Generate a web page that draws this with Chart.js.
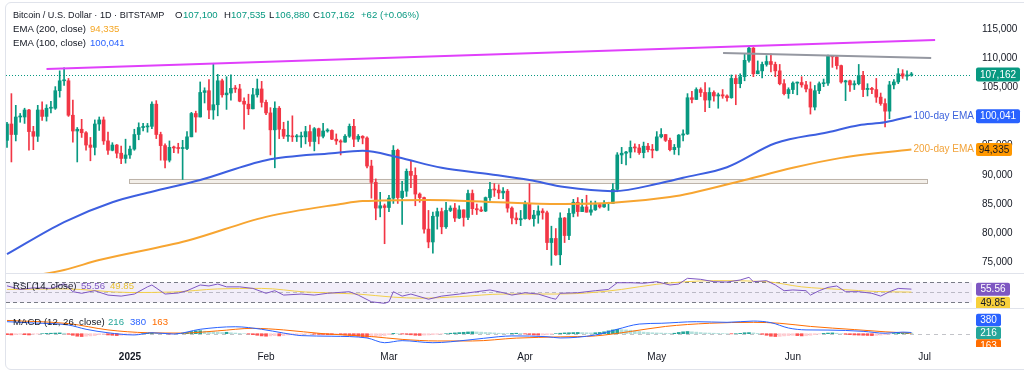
<!DOCTYPE html>
<html>
<head>
<meta charset="utf-8">
<title>Bitcoin / U.S. Dollar · 1D · BITSTAMP</title>
<script src="https://cdn.jsdelivr.net/npm/chart.js@4.4.1/dist/chart.umd.min.js"></script>
<style>
  html, body { margin: 0; padding: 0; background: #fff; }
  #wrap { position: relative; width: 1024px; height: 374px; overflow: hidden; font-family: 'Liberation Sans', Arial, sans-serif; color: #131722; }
  #frame { position: absolute; left: 5px; top: 2px; width: 1100px; height: 366px; border: 1px solid #e0e3eb; border-radius: 6px; }
  canvas { position: absolute; left: 0; }
  .sep { position: absolute; left: 6px; width: 1018px; height: 1px; background: #e0e3eb; z-index: 2; }
  .t { position: absolute; font-size: 9.6px; line-height: 12px; white-space: nowrap; z-index: 3; }
</style>
</head>
<body>
<div id="wrap">
  <div id="frame"></div>
  <canvas id="main" width="1024" height="273" style="top:0"></canvas>
  <canvas id="rsi" width="1024" height="35" style="top:273px"></canvas>
  <canvas id="macd" width="1024" height="61" style="top:308px"></canvas>
  <div class="sep" style="top:273px"></div>
  <div class="sep" style="top:308px"></div>

  <div class="t" style="left:13px;top:9px;font-size:9.1px">Bitcoin / U.S. Dollar · 1D · BITSTAMP</div>
  <div class="t" style="left:175px;top:9px">O</div><div class="t" style="left:183px;top:9px;color:#089981">107,100</div>
  <div class="t" style="left:224px;top:9px">H</div><div class="t" style="left:231px;top:9px;color:#089981">107,535</div>
  <div class="t" style="left:269px;top:9px">L</div><div class="t" style="left:275px;top:9px;color:#089981">106,880</div>
  <div class="t" style="left:313px;top:9px">C</div><div class="t" style="left:320px;top:9px;color:#089981">107,162</div>
  <div class="t" style="left:361px;top:9px;color:#089981">+62 (+0.06%)</div>
  <div class="t" style="left:13px;top:23px">EMA (200, close)</div><div class="t" style="left:90px;top:23px;color:#f5a623">94,335</div>
  <div class="t" style="left:13px;top:37px">EMA (100, close)</div><div class="t" style="left:90px;top:37px;color:#2962ff">100,041</div>

  <div class="t" style="left:13px;top:280px">RSI (14, close)</div>
  <div class="t" style="left:81px;top:280px;color:#7e57c2">55.56</div>
  <div class="t" style="left:110px;top:280px;color:#e8c233">49.85</div>

  <div class="t" style="left:13px;top:316px">MACD (12, 26, close)</div>
  <div class="t" style="left:108px;top:316px;color:#26a69a">216</div>
  <div class="t" style="left:130px;top:316px;color:#2962ff">380</div>
  <div class="t" style="left:152px;top:316px;color:#ff6d00">163</div>
</div>
<script>
// days are counted from 1 Jan 2025, prices in thousands of USD
const firstDay = -28; // 4 Dec 2024

const opens = [
  95.9,98.7,96.9,99.9,99.9,101.1,97.4,96.6,101.1,100.0,101.4,101.4,104.4,106.1,106.1,100.2,97.5,97.8,97.2,95.1,94.7,98.7,99.4,95.8,94.2,95.1,93.7,92.8,
  93.4,94.4,96.9,98.1,98.2,98.3,102.1,96.9,95.0,92.5,94.7,94.6,94.5,94.5,96.5,100.5,99.9,104.1,104.4,101.1,102.0,106.1,103.7,104.0,104.8,104.7,102.6,102.1,101.3,103.7,104.7,
  102.4,100.6,97.7,101.4,97.8,96.6,96.6,96.5,96.5,96.5,97.4,95.7,97.9,96.6,97.5,97.6,96.1,95.8,95.6,96.6,98.3,96.1,96.6,96.3,91.5,88.7,84.3,84.7,
  84.4,86.0,94.2,86.1,87.2,90.6,89.9,86.7,86.1,80.7,78.5,82.9,83.7,81.1,83.9,84.3,82.6,84.0,82.7,86.8,84.2,84.0,83.8,86.1,87.5,87.4,86.9,87.2,84.3,82.6,82.3,
  82.5,85.1,82.5,83.1,83.8,83.5,78.4,79.1,76.3,82.6,79.6,83.4,85.3,83.7,84.5,83.6,84.0,84.9,84.5,85.1,85.1,87.5,93.4,93.7,93.9,94.7,94.6,93.8,94.9,94.3,
  94.2,96.5,96.9,95.9,94.3,94.7,96.8,97.0,103.2,102.9,104.6,104.1,102.8,104.1,103.5,103.7,103.5,103.2,106.5,105.6,106.8,109.6,111.7,107.3,107.8,108.9,109.4,108.9,107.8,105.6,103.9,
  104.6,105.7,105.8,105.4,104.7,101.6,104.4,105.6,105.7,110.3,110.2,108.7,105.9,106.1,105.4,105.6,107.0,104.6,104.8,104.6,103.3,102.2,100.9,105.4,105.9,107.3,106.9,107.1
];
const highs = [
  99.0,103.9,101.9,100.5,101.4,101.2,98.3,101.9,102.5,102.0,102.6,105.1,107.8,108.3,106.5,102.8,98.1,99.5,97.4,96.4,99.4,99.9,99.9,97.3,95.5,95.2,94.9,96.1,
  94.9,97.8,98.9,98.8,98.8,102.5,102.7,97.3,95.3,95.8,94.9,95.4,95.9,97.4,100.7,100.9,105.9,104.9,106.3,109.1,107.2,106.4,106.8,107.1,105.3,105.5,103.2,103.8,104.8,106.4,106.0,
  102.8,101.5,102.5,101.7,99.0,99.2,100.1,96.9,97.3,98.3,98.5,98.1,98.0,98.8,97.9,97.7,97.0,96.0,96.9,98.7,99.5,96.9,96.7,96.5,92.5,89.3,87.0,85.0,
  86.5,95.0,94.4,88.9,91.0,92.3,91.2,86.9,86.2,83.9,83.6,84.3,84.3,85.3,84.7,85.1,84.7,84.0,87.4,87.4,85.0,84.5,86.2,88.7,88.5,88.3,87.8,87.5,84.5,83.5,83.9,
  85.5,88.5,83.9,84.7,84.2,83.8,81.2,80.8,83.5,82.7,84.2,85.8,86.1,85.8,86.5,85.5,85.5,85.1,85.6,85.3,88.5,93.8,94.7,94.0,95.8,95.3,95.2,95.6,95.4,95.2,
  97.4,97.9,96.9,96.3,95.2,96.9,97.7,103.9,104.3,104.9,104.9,105.8,104.9,104.4,104.0,104.6,103.7,107.1,107.1,107.3,110.7,111.9,111.8,109.5,109.3,110.4,110.7,109.3,108.9,106.3,104.9,
  105.9,105.9,106.8,106.0,105.9,105.3,105.9,106.4,110.5,110.4,110.4,108.8,106.2,106.2,106.1,108.9,107.7,105.6,105.0,106.5,104.0,103.0,106.0,106.3,108.2,108.0,107.8,107.535
];
const lows = [
  94.7,92.2,95.8,99.0,98.8,94.2,94.3,95.7,99.3,99.2,100.6,101.2,103.3,105.3,100.0,95.6,92.2,96.4,94.2,92.4,93.4,97.6,95.2,93.5,94.1,92.9,91.9,92.0,
  92.8,94.2,96.0,97.5,97.3,97.9,96.2,92.5,91.2,92.2,93.8,93.7,89.2,94.3,96.5,97.3,99.9,102.3,99.6,99.5,100.1,103.3,101.2,102.8,104.1,102.5,97.8,100.3,101.3,103.3,101.6,
  100.3,93.4,91.2,96.2,96.2,95.7,95.7,95.7,94.7,95.3,94.9,94.1,95.3,96.3,97.3,96.0,95.2,93.4,95.6,96.4,94.8,95.7,95.3,91.2,86.0,82.3,82.8,78.2,
  83.7,85.1,85.1,81.5,86.3,87.8,84.7,85.3,80.0,77.5,76.6,80.7,79.9,80.8,83.7,82.0,82.5,81.2,82.3,83.2,83.2,83.7,83.7,85.6,86.3,85.9,85.9,83.6,81.6,81.6,81.3,
  82.4,82.3,81.2,81.7,82.4,77.2,74.5,76.2,74.6,78.4,78.9,82.8,82.9,83.7,83.6,83.1,83.9,84.3,84.4,83.9,85.1,87.1,91.9,91.7,92.9,93.9,93.5,92.9,93.9,92.9,
  94.1,96.3,95.7,94.1,93.5,93.4,95.8,96.9,102.3,102.9,103.4,100.8,101.5,102.6,101.4,103.1,102.6,103.1,102.0,104.9,106.1,109.3,106.8,107.3,106.6,108.6,107.6,106.8,105.4,103.7,103.1,
  103.9,103.7,105.0,104.2,100.4,101.1,103.9,105.1,105.3,108.4,108.1,105.7,102.7,104.3,104.6,105.4,103.4,103.5,103.9,102.4,101.9,98.2,99.6,104.7,105.6,106.5,106.2,106.88
];
const closes = [
  98.7,96.9,99.9,99.9,101.1,97.4,96.6,101.1,100.0,101.4,101.4,104.4,106.1,106.1,100.2,97.5,97.8,97.2,95.1,94.7,98.7,99.4,95.8,94.2,95.1,93.7,92.8,93.4,
  94.4,96.9,98.1,98.2,98.3,102.1,96.9,95.0,92.5,94.7,94.6,94.5,94.5,96.5,100.5,99.9,104.1,104.4,101.1,102.0,106.1,103.7,104.0,104.8,104.7,102.6,102.1,101.3,103.7,104.7,102.4,
  100.6,97.7,101.4,97.8,96.6,96.6,96.5,96.5,96.5,97.4,95.7,97.9,96.6,97.5,97.6,96.1,95.8,95.6,96.6,98.3,96.1,96.6,96.3,91.5,88.7,84.3,84.7,84.4,
  86.0,94.2,86.1,87.2,90.6,89.9,86.7,86.1,80.7,78.5,82.9,83.7,81.1,83.9,84.3,82.6,84.0,82.7,86.8,84.2,84.0,83.8,86.1,87.5,87.4,86.9,87.2,84.3,82.6,82.3,82.5,
  85.1,82.5,83.1,83.8,83.5,78.4,79.1,76.3,82.6,79.6,83.4,85.3,83.7,84.5,83.6,84.0,84.9,84.5,85.1,85.1,87.5,93.4,93.7,93.9,94.7,94.6,93.8,94.9,94.3,94.2,
  96.5,96.9,95.9,94.3,94.7,96.8,97.0,103.2,102.9,104.6,104.1,102.8,104.1,103.5,103.7,103.5,103.2,106.5,105.6,106.8,109.6,111.7,107.3,107.8,108.9,109.4,108.9,107.8,105.6,103.9,104.6,
  105.7,105.8,105.4,104.7,101.6,104.4,105.6,105.7,110.3,110.2,108.7,105.9,106.1,105.4,105.6,107.0,104.6,104.8,104.6,103.3,102.2,100.9,105.4,105.9,107.3,106.9,107.1,107.162
];

// moving averages
const ema100Days = [-28, -15, -4, 5, 16, 31, 46, 53, 61, 71, 82, 91, 99, 110, 121, 126, 136, 147, 159, 166, 172, 178];
const ema100Vals = [76.4, 81.9, 85.3, 87.1, 89.1, 92.5, 93.7, 94.1, 93.0, 91.2, 90.1, 89.1, 87.9, 87.2, 88.6, 89.5, 91.3, 95.4, 97.3, 98.5, 99.0, 100.041];
const ema200Days = [-28, -15, -7, 13, 31, 48, 53, 68, 84, 99, 110, 123, 128, 140, 151, 162, 178];
const ema200Vals = [72.0, 73.7, 75.4, 78.7, 82.8, 85.0, 85.5, 85.7, 85.3, 85.0, 85.2, 86.2, 86.9, 89.1, 91.2, 92.9, 94.335];

// drawings
const pinkDays = [-19, 183.4];
const pinkVals = [108.1, 113.1];
const greyDays = [135.1, 182.5];
const greyVals = [110.86, 110.0];
const boxDays = [-0.2, 181.5];
const boxVals = [89.3, 88.6];

// RSI pane
const rsiDays = [-28,-25,-22,-18,-15,-13,-11,-8,-5,-2,1,4,5,8,11,13,16,18,20,22,25,28,31,33,35,39,42,45,50,52,55,58,59,60,62,64,68,71,75,79,82,85,87,90,93,96,97,98,102,106,109,111,114,117,120,123,125,127,130,133,136,139,141,142,145,147,149,151,154,155,157,159,161,163,166,169,171,173,175,178];
const rsiVals = [62,55,58,57,66,50.6,47.5,52.5,44,42,46,60,63.6,46,48,52.5,63.6,61.7,65.5,60,60,57,47.5,52.5,44,46,44,47.5,50.6,44,31,28,31,50.6,42,46,36,42,46,50.6,54,48.6,44,48.6,46,38,36,47.5,48.6,52.5,55,68,68,67,70,63.6,65.5,76.6,74.6,70,69.4,73.3,78.5,70,72,63.6,52.5,54,52.5,44,52.5,59,61.7,50.6,50.6,47.5,42,50.6,57,55.56];
const rsiMaDays = [-28,-15,0,10,20,30,40,52,60,66,75,85,95,104,112,120,133,145,153,162,170,178];
const rsiMaVals = [55,56,49,50,56,57,50,46,40,38,41,46,46,48,55,65,72,70,60,55,51,49.85];

// MACD pane
const macdDays = [-28,-22,-14,-10,-5,1,5,10,16,24,30,35,39,46,54,58,62,69,77,84,87,95,98,106,111,116,121,129,136,142,146,150,154,159,167,172,176,178];
const macdVals = [3800,3400,2750,1400,300,-400,300,-100,1400,2200,1400,200,-600,-800,-1350,-2850,-2200,-2850,-2000,-950,-700,-950,-1350,-400,1400,3050,3300,3800,3600,4000,3500,1800,1200,1150,750,150,500,380];
const signalDays = [-28,-14,-5,4,12,20,28,35,44,55,62,70,78,88,98,106,114,122,132,142,148,155,165,172,178];
const signalVals = [4200,3200,1200,300,200,900,1700,1200,0,-900,-1800,-2300,-2300,-1400,-1000,-700,700,2300,3300,3600,3300,2300,1300,600,163];
const macdHist = [
  -300,-400,-300,-200,-300,-400,-200,-100,0,100,150,200,250,150,-200,-500,-800,-900,-800,-700,-600,-300,-200,-400,-500,-600,-500,-400,
  -300,-200,-100,0,150,200,150,100,0,-100,-50,50,150,400,700,900,950,800,700,600,500,400,450,300,200,100,0,-100,-300,-500,-700,
  -800,-700,-600,-700,-600,-400,-300,-250,-200,-150,-100,-150,-200,-250,-300,-300,-250,-300,-400,-500,-600,-800,-1000,-1100,-1000,-900,-800,-600,
  -300,100,0,-100,-200,-350,-500,-550,-450,-400,-300,-200,-100,0,150,250,350,450,550,600,550,500,400,350,250,150,100,50,100,150,100,
  -100,-250,-400,-450,-400,-300,-150,0,150,250,300,350,400,350,300,250,300,400,600,900,1200,1400,1300,1200,1100,900,700,500,400,300,
  250,200,150,100,150,400,600,700,600,500,350,250,200,150,100,50,0,-50,0,100,300,350,250,100,-200,-500,-800,-900,-850,-700,-600,
  -500,-600,-700,-650,-500,-300,-100,100,200,250,150,0,-200,-300,-400,-450,-500,-550,-600,-550,-450,-300,-100,50,150,200,220,216
];

// axes
const priceTicks = [75, 80, 85, 90, 95, 100, 105, 110, 115];
const tickDays = [0, 31, 59, 90, 120, 151, 181];
const tickLabels = ['2025', 'Feb', 'Mar', 'Apr', 'May', 'Jun', 'Jul'];

const FONT = "'Liberation Sans', Arial, sans-serif";
Chart.defaults.font.family = FONT;
Chart.defaults.font.size = 10;
Chart.defaults.color = '#131722';

const UP = '#089981';
const DOWN = '#f23645';
const X_MIN = -28.23;
const X_MAX = 191.8;

const pts = (days, vals) => days.map((d, i) => ({ x: d, y: vals[i] }));
const candleDays = opens.map((_, i) => firstDay + i);
const candleColor = c => (closes[c.dataIndex] >= opens[c.dataIndex] ? UP : DOWN);
const lastOf = a => a[a.length - 1];

function xAxis(display) {
  return {
    type: 'linear', min: X_MIN, max: X_MAX, offset: false, display,
    grid: { display: false, drawTicks: false }, border: { display: false }
  };
}

function drawTag(ctx, text, yc, bg, fg, left, w, h) {
  ctx.fillStyle = bg;
  ctx.beginPath();
  if (ctx.roundRect) ctx.roundRect(left, yc - h / 2, w, h, 2);
  else ctx.rect(left, yc - h / 2, w, h);
  ctx.fill();
  ctx.fillStyle = fg;
  ctx.font = '10px ' + FONT;
  ctx.textAlign = 'center';
  ctx.textBaseline = 'middle';
  ctx.fillText(text, left + w / 2, yc + 0.5);
}

const fmtK = v => Math.round(v * 1000).toLocaleString('en-US');

//Desenhos do painel de preço: caixa de suporte, linha do último preço, rótulos
const mainDecor = {
  id: 'mainDecor',
  beforeDatasetsDraw(chart) {
    const { ctx, chartArea: a, scales: { x, y } } = chart;
    ctx.save();
    const x0 = x.getPixelForValue(boxDays[0]), x1 = x.getPixelForValue(boxDays[1]);
    const y0 = y.getPixelForValue(boxVals[0]), y1 = y.getPixelForValue(boxVals[1]);
    ctx.fillStyle = 'rgba(238,232,224,0.7)';
    ctx.fillRect(x0, y0, x1 - x0, y1 - y0);
    ctx.strokeStyle = '#bdb4aa';
    ctx.lineWidth = 1;
    ctx.strokeRect(Math.round(x0) + 0.5, Math.round(y0) + 0.5, Math.round(x1 - x0), Math.round(y1 - y0));

    const py = Math.round(y.getPixelForValue(lastOf(closes))) + 0.5;
    ctx.strokeStyle = UP;
    ctx.setLineDash([1, 2]);
    ctx.beginPath();
    ctx.moveTo(a.left, py);
    ctx.lineTo(a.right, py);
    ctx.stroke();
    ctx.restore();
  },
  afterDatasetsDraw(chart) {
    const { ctx, scales: { x, y } } = chart;
    ctx.save();
    ctx.font = '10px ' + FONT;
    ctx.textAlign = 'left';
    ctx.textBaseline = 'middle';
    ctx.fillStyle = '#3d63dd';
    ctx.fillText('100-day EMA', x.getPixelForValue(lastOf(ema100Days)) + 2, y.getPixelForValue(lastOf(ema100Vals)));
    ctx.fillStyle = '#f2a33a';
    ctx.fillText('200-day EMA', x.getPixelForValue(lastOf(ema200Days)) + 2, y.getPixelForValue(lastOf(ema200Vals)));
    ctx.restore();
  },
  afterDraw(chart) {
    const { ctx, scales: { y } } = chart;
    ctx.save();
    drawTag(ctx, fmtK(lastOf(closes)), y.getPixelForValue(lastOf(closes)), UP, '#fff', 976, 44, 14);
    drawTag(ctx, fmtK(lastOf(ema100Vals)), y.getPixelForValue(lastOf(ema100Vals)), '#2962ff', '#fff', 976, 44, 14);
    drawTag(ctx, fmtK(lastOf(ema200Vals)), y.getPixelForValue(lastOf(ema200Vals)), '#ff9800', '#131722', 976, 36, 13);
    ctx.restore();
  }
};

new Chart(document.getElementById('main'), {
  type: 'line',
  data: {
    datasets: [
      { data: pts(pinkDays, pinkVals), borderColor: '#e040fb', borderWidth: 2, pointRadius: 0, order: 1 },
      { data: pts(greyDays, greyVals), borderColor: '#9598a1', borderWidth: 2, pointRadius: 0, order: 1 },
      { data: pts(ema100Days, ema100Vals), borderColor: '#3d5fe0', borderWidth: 2, pointRadius: 0, cubicInterpolationMode: 'monotone', order: 2 },
      { data: pts(ema200Days, ema200Vals), borderColor: '#f7a531', borderWidth: 2, pointRadius: 0, cubicInterpolationMode: 'monotone', order: 2 },
      { type: 'bar', data: candleDays.map((d, i) => ({ x: d, y: [opens[i], closes[i]] })), backgroundColor: candleColor,
        barThickness: 3, grouped: false, minBarLength: 1, borderWidth: 0, borderSkipped: false, order: 3 },
      { type: 'bar', data: candleDays.map((d, i) => ({ x: d, y: [lows[i], highs[i]] })), backgroundColor: candleColor,
        barThickness: 1, grouped: false, borderWidth: 0, borderSkipped: false, order: 4 }
    ]
  },
  options: {
    responsive: false,
    animation: false,
    layout: { padding: { left: 6, top: 3 } },
    plugins: { legend: { display: false }, tooltip: { enabled: false } },
    scales: {
      x: xAxis(false),
      y: {
        position: 'right', min: 73.185, max: 119.42,
        grid: { display: false, drawTicks: false }, border: { display: false },
        ticks: { padding: 10, color: '#131722', callback: v => fmtK(v) },
        afterBuildTicks(s) { s.ticks = priceTicks.map(v => ({ value: v })); },
        afterFit(s) { s.width = 52; s.paddingTop = 0; s.paddingBottom = 0; }
      }
    }
  },
  plugins: [mainDecor]
});

//Painel do RSI
const rsiDecor = {
  id: 'rsiDecor',
  beforeDatasetsDraw(chart) {
    const { ctx, chartArea: a, scales: { y } } = chart;
    const y70 = Math.round(y.getPixelForValue(70)) + 0.5;
    const y50 = Math.round(y.getPixelForValue(50)) + 0.5;
    const y30 = Math.round(y.getPixelForValue(30)) + 0.5;
    ctx.save();
    ctx.fillStyle = 'rgba(126,87,194,0.1)';
    ctx.fillRect(a.left, y70, a.right - a.left, y30 - y70);
    ctx.lineWidth = 1;
    ctx.setLineDash([4, 3]);
    ctx.strokeStyle = '#787b86';
    [y70, y30].forEach(py => { ctx.beginPath(); ctx.moveTo(a.left, py); ctx.lineTo(a.right, py); ctx.stroke(); });
    ctx.strokeStyle = 'rgba(120,123,134,0.45)';
    ctx.beginPath(); ctx.moveTo(a.left, y50); ctx.lineTo(a.right, y50); ctx.stroke();
    ctx.restore();
  },
  afterDraw(chart) {
    const { ctx, scales: { y } } = chart;
    const yc = y.getPixelForValue(lastOf(rsiVals));
    ctx.save();
    drawTag(ctx, lastOf(rsiVals).toFixed(2), yc, '#7e57c2', '#fff', 976, 34, 13);
    drawTag(ctx, lastOf(rsiMaVals).toFixed(2), yc + 14, '#f7d03b', '#131722', 976, 34, 13);
    ctx.restore();
  }
};

new Chart(document.getElementById('rsi'), {
  type: 'line',
  data: {
    datasets: [
      { data: pts(rsiDays, rsiVals), borderColor: '#7e57c2', borderWidth: 1, pointRadius: 0 },
      { data: pts(rsiMaDays, rsiMaVals), borderColor: '#f2cf4a', borderWidth: 1, pointRadius: 0, cubicInterpolationMode: 'monotone' }
    ]
  },
  options: {
    responsive: false,
    animation: false,
    layout: { padding: { left: 6, right: 52 } },
    plugins: { legend: { display: false }, tooltip: { enabled: false } },
    scales: {
      x: xAxis(false),
      y: { display: false, min: 18.93, max: 86.9 }
    }
  },
  plugins: [rsiDecor]
});

//Painel do MACD com eixo de datas
const histColor = c => {
  const i = c.dataIndex;
  const v = macdHist[i];
  const p = i > 0 ? macdHist[i - 1] : v;
  if (v >= 0) return v >= p ? '#26a69a' : '#b2dfdb';
  return v <= p ? '#ff5252' : '#ffcdd2';
};

const macdDecor = {
  id: 'macdDecor',
  beforeDatasetsDraw(chart) {
    const { ctx, chartArea: a, scales: { y } } = chart;
    const py = Math.round(y.getPixelForValue(0)) + 0.5;
    ctx.save();
    ctx.strokeStyle = 'rgba(120,123,134,0.45)';
    ctx.setLineDash([4, 4]);
    ctx.beginPath(); ctx.moveTo(a.left, py); ctx.lineTo(a.right, py); ctx.stroke();
    ctx.restore();
  },
  afterDraw(chart) {
    const { ctx, chartArea: a, scales: { y } } = chart;
    const yc = y.getPixelForValue(lastOf(macdHist));
    ctx.save();
    ctx.beginPath();
    ctx.rect(0, 0, chart.width, a.bottom);
    ctx.clip();
    drawTag(ctx, String(lastOf(macdVals)), yc - 13, '#2962ff', '#fff', 976, 25, 12.5);
    drawTag(ctx, String(lastOf(macdHist)), yc, '#26a69a', '#fff', 976, 25, 12.5);
    drawTag(ctx, String(lastOf(signalVals)), yc + 12.5, '#ff6d00', '#fff', 976, 25, 12.5);
    ctx.restore();
  }
};

const timeAxis = xAxis(true);
timeAxis.ticks = {
  padding: 4, autoSkip: false, maxRotation: 0, color: '#131722',
  font: c => ({ size: 10, weight: c.tick && c.tick.value === 0 ? 'bold' : 'normal' }),
  callback: v => tickLabels[tickDays.indexOf(v)]
};
timeAxis.afterBuildTicks = s => { s.ticks = tickDays.map(v => ({ value: v })); };
timeAxis.afterFit = s => { s.height = 22; };

new Chart(document.getElementById('macd'), {
  type: 'line',
  data: {
    datasets: [
      { data: pts(macdDays, macdVals), borderColor: '#2962ff', borderWidth: 1, pointRadius: 0, cubicInterpolationMode: 'monotone', order: 1 },
      { data: pts(signalDays, signalVals), borderColor: '#ff6d00', borderWidth: 1, pointRadius: 0, cubicInterpolationMode: 'monotone', order: 1 },
      { type: 'bar', data: candleDays.map((d, i) => ({ x: d, y: macdHist[i] })), backgroundColor: histColor,
        barThickness: 3, grouped: false, borderWidth: 0, order: 2 }
    ]
  },
  options: {
    responsive: false,
    animation: false,
    layout: { padding: { left: 6, right: 52, top: 1 } },
    plugins: { legend: { display: false }, tooltip: { enabled: false } },
    scales: {
      x: timeAxis,
      y: { display: false, min: -4209, max: 7817 }
    }
  },
  plugins: [macdDecor]
});
</script>
</body>
</html>
